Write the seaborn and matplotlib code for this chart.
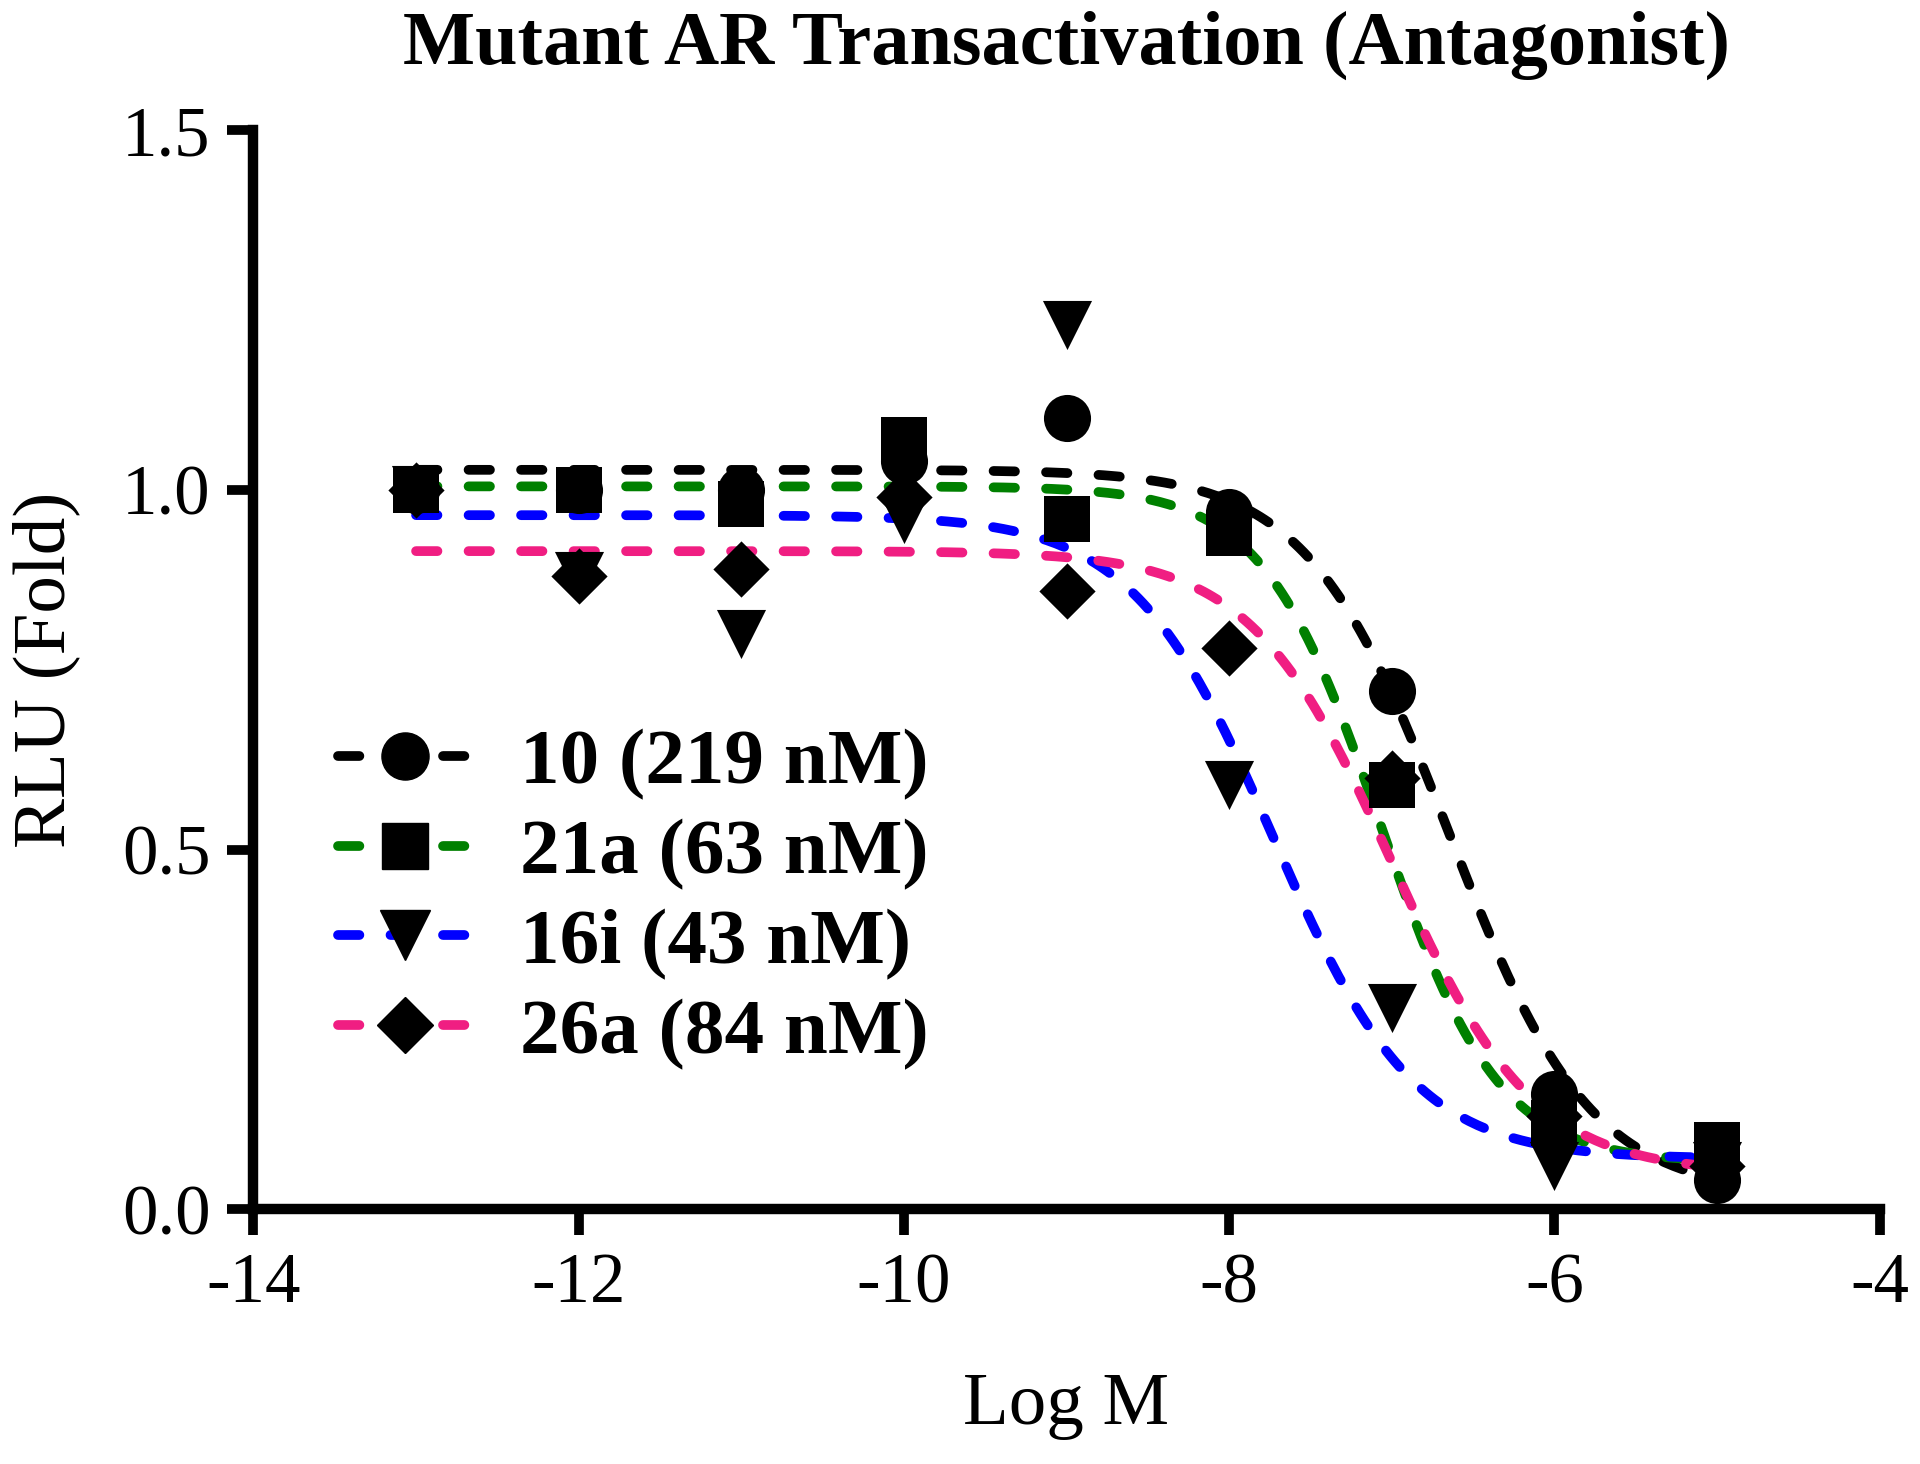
import numpy as np
import pandas as pd
import matplotlib
matplotlib.use("Agg")
import matplotlib.pyplot as plt
import seaborn as sns
from matplotlib.lines import Line2D

# concentrations (log M) where each compound was measured
log_conc = [-13, -12, -11, -10, -9, -8, -7, -6, -5]

rlu_10 = [1.00, 1.00, 1.00, 1.04, 1.10, 0.97, 0.72, 0.16, 0.04]
rlu_21a = [1.00, 1.00, 0.98, 1.07, 0.96, 0.94, 0.59, 0.12, 0.09]
rlu_16i = [1.00, 0.88, 0.80, 0.96, 1.23, 0.59, 0.28, 0.06, 0.06]
rlu_26a = [1.00, 0.88, 0.89, 0.99, 0.86, 0.78, 0.60, 0.13, 0.06]

compounds = ["10 (219 nM)", "21a (63 nM)", "16i (43 nM)", "26a (84 nM)"]
line_colors = ["#000000", "#008000", "#0000FF", "#F01E82"]
markers = ["o", "s", "v", "D"]
marker_area = [1150, 1100, 1250, 820]

# 4PL fit parameters: top, bottom, logIC50, hill
fit_top = [1.028, 1.005, 0.965, 0.915]
fit_bottom = [0.02, 0.065, 0.07, 0.05]
fit_logic50 = [-6.65, -7.07, -7.73, -7.0]
fit_hill = [1.0, 1.2, 1.0, 1.0]


def four_pl(x, top, bottom, logic50, hill):
    return bottom + (top - bottom) / (1 + 10 ** ((x - logic50) * hill))


points = pd.DataFrame({
    "logM": log_conc * 4,
    "rlu": rlu_10 + rlu_21a + rlu_16i + rlu_26a,
    "compound": np.repeat(compounds, len(log_conc)),
})

sns.set_style("ticks")
plt.rcParams["font.family"] = ["Liberation Serif", "DejaVu Serif"]
plt.rcParams["axes.unicode_minus"] = False
plt.rcParams["text.color"] = "black"
plt.rcParams["axes.labelcolor"] = "black"

fig = plt.figure(figsize=(19.2, 14.64), dpi=100)
ax = fig.add_axes([0.132, 0.174, 0.847, 0.737])

LW = 7.0
dash = (0, (2.2, 3.2))
xs = np.linspace(-13, -5, 300)
for i, name in enumerate(compounds):
    ys = four_pl(xs, fit_top[i], fit_bottom[i], fit_logic50[i], fit_hill[i])
    sns.lineplot(x=xs, y=ys, ax=ax, color=line_colors[i], zorder=2)

# seaborn ignores some line kwargs, so style the fitted curves afterwards
for line in ax.get_lines():
    line.set_linewidth(LW)
    line.set_linestyle(dash)
    line.set_dash_capstyle("round")

for i, name in enumerate(compounds):
    sub = points[points["compound"] == name]
    sns.scatterplot(data=sub, x="logM", y="rlu", ax=ax, marker=markers[i],
                    color="black", s=marker_area[i],
                    edgecolor="black", linewidth=0, zorder=3, clip_on=False)

ax.set_xlim(-14, -4)
ax.set_ylim(0, 1.5)
ax.set_xticks([-14, -12, -10, -8, -6, -4])
ax.set_yticks([0.0, 0.5, 1.0, 1.5])
ax.set_yticklabels(["0.0", "0.5", "1.0", "1.5"])

for side in ["top", "right"]:
    ax.spines[side].set_visible(False)
for side in ["left", "bottom"]:
    ax.spines[side].set_linewidth(7.5)
    ax.spines[side].set_color("black")
    ax.spines[side].set_capstyle("projecting")
ax.tick_params(axis="both", which="major", length=19, width=7.0, direction="out",
               labelsize=51, colors="black", labelcolor="black", pad=12)

ax.set_xlabel("Log M", fontsize=54, labelpad=40)
ax.set_ylabel("RLU (Fold)", fontsize=54, labelpad=30)
ax.set_title("Mutant AR Transactivation (Antagonist)", fontsize=55,
             fontweight="bold", pad=48)

handles = [
    Line2D([0], [0], color=line_colors[i], linewidth=LW, linestyle=dash,
           dash_capstyle="round", marker=markers[i],
           markersize=np.sqrt(marker_area[i]),
           markerfacecolor="black", markeredgecolor="black")
    for i in range(len(compounds))
]
leg = ax.legend(handles, compounds, loc="upper left", bbox_to_anchor=(0.008, 0.512),
                frameon=False, handlelength=1.7, handletextpad=0.6,
                labelspacing=0.22, prop={"size": 57, "weight": "bold"})

fig.savefig("out.png", dpi=100)
